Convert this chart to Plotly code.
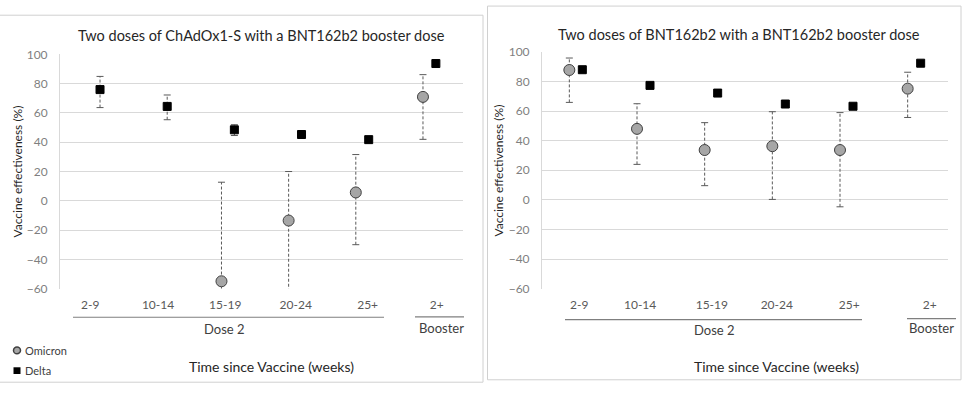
import plotly.graph_objects as go

W, H = 972, 394

categories = ["2-9", "10-14", "15-19", "20-24", "25+", "2+"]
titles = ["Two doses of ChAdOx1-S with a BNT162b2 booster dose",
          "Two doses of BNT162b2 with a BNT162b2 booster dose"]

# Left panel: ChAdOx1-S primary course
omicron_L = [None, None, -55, -13.5, 5.7, 71]
omicron_L_lo = [None, None, -170, -110, -30, 42]
omicron_L_hi = [None, None, 12.7, 20, 31.6, 86.2]
delta_L = [76, 64.5, 48.5, 45.3, 41.8, 93.8]
delta_L_lo = [63.7, 55.4, 44.6, None, None, None]
delta_L_hi = [85, 72.3, 52, None, None, None]

# Right panel: BNT162b2 primary course
omicron_R = [87.8, 48, 33.7, 36.3, 33.7, 75.2]
omicron_R_lo = [65.9, 24, 9.6, 0.3, -4.7, 55.7]
omicron_R_hi = [95.9, 65, 52.2, 59.6, 59, 86.3]
delta_R = [88, 77.4, 72.2, 64.8, 63.3, 92.4]
delta_R_lo = [None] * 6
delta_R_hi = [None] * 6

y_ticks = [-60, -40, -20, 0, 20, 40, 60, 80, 100]

FONT = "Lato"
GRID = "#D9D9D9"
ERR = "#595959"
OFF = 0.096


def px(x):
    return x / W


def py(y):
    return 1 - y / H


fig = go.Figure()


def add_series(xa, ya, vals, lo, hi, offset, symbol, size, color, lcolor):
    xs = [i + offset for i in range(len(vals))]
    lx, ly, cx, cy = [], [], [], []
    for x, l, h in zip(xs, lo, hi):
        if l is None or h is None:
            continue
        lx += [x, x, None]
        ly += [l, h, None]
        cx += [x, x]
        cy += [l, h]
    if lx:
        fig.add_trace(go.Scatter(x=lx, y=ly, xaxis=xa, yaxis=ya, mode="lines",
                                 line=dict(color=ERR, width=1, dash="3px,2px"),
                                 showlegend=False, hoverinfo="skip"))
        fig.add_trace(go.Scatter(x=cx, y=cy, xaxis=xa, yaxis=ya, mode="markers",
                                 marker=dict(symbol="line-ew-open", size=5, color=ERR,
                                             line=dict(color=ERR, width=1)),
                                 showlegend=False, hoverinfo="skip"))
    fig.add_trace(go.Scatter(x=xs, y=vals, xaxis=xa, yaxis=ya, mode="markers",
                             marker=dict(symbol=symbol, size=size, color=color,
                                         line=dict(color=lcolor, width=1)),
                             showlegend=False))


add_series("x", "y", omicron_L, omicron_L_lo, omicron_L_hi, -OFF, "circle", 11, "#A6A6A6", "#404040")
add_series("x", "y", delta_L, delta_L_lo, delta_L_hi, OFF, "square", 8, "#000000", "#000000")
add_series("x2", "y2", omicron_R, omicron_R_lo, omicron_R_hi, -OFF, "circle", 11, "#A6A6A6", "#404040")
add_series("x2", "y2", delta_R, delta_R_lo, delta_R_hi, OFF, "square", 8, "#000000", "#000000")

# plot areas (pixels)
L_x0, L_x1, L_top, L_bot = 60, 463, 48.3, 291.7
R_x0, R_x1, R_top, R_bot = 542, 948, 45.7, 291.7

yaxis_common = dict(range=[-60, 100], tickvals=y_ticks, showgrid=True, gridcolor=GRID,
                    gridwidth=1, zeroline=False, showline=True, linecolor=GRID,
                    ticks="", tickfont=dict(family=FONT, size=12, color="#7F7F7F"),
                    ticklabelstandoff=9, fixedrange=True)
xaxis_common = dict(range=[-0.5, 5.5], showgrid=False, zeroline=False, showline=False,
                    ticks="", ticktext=categories,
                    tickfont=dict(family=FONT, size=12, color="#595959"),
                    ticklabelstandoff=7, fixedrange=True)

fig.update_layout(
    width=W, height=H, margin=dict(l=0, r=0, t=0, b=0),
    paper_bgcolor="white", plot_bgcolor="white", showlegend=False,
    xaxis=dict(domain=[px(L_x0), px(L_x1)], anchor="y",
               tickvals=[-0.05, 0.96, 1.96, 3.01, 4.08, 5.11], **xaxis_common),
    yaxis=dict(domain=[py(L_bot), py(L_top)], anchor="x", **yaxis_common),
    xaxis2=dict(domain=[px(R_x0), px(R_x1)], anchor="y2",
                tickvals=[0.05, 0.95, 2.01, 2.97, 4.04, 5.23], **xaxis_common),
    yaxis2=dict(domain=[py(R_bot), py(R_top)], anchor="x2", **yaxis_common),
)

shapes = []
annotations = []

# panel frames
shapes.append(dict(type="rect", xref="paper", yref="paper", x0=px(-2), x1=px(483),
                   y0=py(389), y1=py(7.5), line=dict(color="#D0D0D0", width=1)))
shapes.append(dict(type="rect", xref="paper", yref="paper", x0=px(487.5), x1=px(961),
                   y0=py(386.5), y1=py(-2), line=dict(color="#D0D0D0", width=1)))

# group brackets
for (x0, x1, yl, tx, ty, txt) in [
    (73, 384, 321.5, 224, 334, "Dose 2"),
    (415, 464, 321, 441, 333, "Booster"),
    (565, 862, 324, 714, 335, "Dose 2"),
    (907, 956, 323, 931, 333, "Booster"),
]:
    shapes.append(dict(type="line", xref="paper", yref="paper", x0=px(x0), x1=px(x1),
                       y0=py(yl), y1=py(yl), line=dict(color="#7F7F7F", width=1.2)))
    annotations.append(dict(xref="paper", yref="paper", x=px(tx), y=py(ty), text=txt,
                            showarrow=False, xanchor="center", yanchor="middle",
                            font=dict(family=FONT, size=13, color="#404040")))

# titles
for tx, ty, txt in [(261, 29, titles[0]), (739, 27.5, titles[1])]:
    annotations.append(dict(xref="paper", yref="paper", x=px(tx), y=py(ty), text=txt,
                            showarrow=False, xanchor="center", yanchor="middle",
                            font=dict(family=FONT, size=14.5, color="#262626")))

# axis titles
for tx in [271, 776]:
    annotations.append(dict(xref="paper", yref="paper", x=px(tx), y=py(373),
                            text="Time since Vaccine (weeks)", showarrow=False,
                            xanchor="center", yanchor="middle",
                            font=dict(family=FONT, size=14, color="#262626")))
for tx, ty in [(18, 170), (499, 169)]:
    annotations.append(dict(xref="paper", yref="paper", x=px(tx), y=py(ty),
                            text="Vaccine effectiveness (%)", textangle=-90,
                            showarrow=False, xanchor="center", yanchor="middle",
                            font=dict(family=FONT, size=12, color="#262626")))

# manual legend
shapes.append(dict(type="circle", xref="paper", yref="paper", x0=px(13.5), x1=px(20.5),
                   y0=py(359.5), y1=py(352.5), fillcolor="#A6A6A6",
                   line=dict(color="#404040", width=1.5)))
shapes.append(dict(type="rect", xref="paper", yref="paper", x0=px(13.5), x1=px(20.5),
                   y0=py(380.5), y1=py(373.5), fillcolor="#000000",
                   line=dict(color="#000000", width=0)))
for ty, txt in [(356, "Omicron"), (377, "Delta")]:
    annotations.append(dict(xref="paper", yref="paper", x=px(22.5), y=py(ty), text=txt,
                            showarrow=False, xanchor="left", yanchor="middle",
                            font=dict(family=FONT, size=11, color="#404040")))

fig.update_layout(shapes=shapes, annotations=annotations)

post = ("document.documentElement.style.margin='0';"
        "document.documentElement.style.overflow='hidden';"
        "document.body.style.margin='0';document.body.style.padding='0';"
        "document.body.style.overflow='hidden';"
        "var d=document.getElementById('{plot_id}');"
        "d.style.position='fixed';d.style.top='0px';d.style.left='0px';")

fig.write_html("out.html", config={"displayModeBar": False}, post_script=post)
